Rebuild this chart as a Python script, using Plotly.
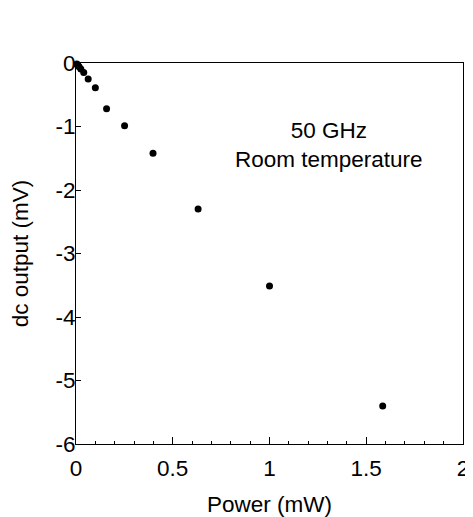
import plotly.graph_objects as go

power_mw = [0.004, 0.0063, 0.01, 0.016, 0.025, 0.04, 0.063, 0.1, 0.158, 0.251, 0.398, 0.631, 1.0, 1.585]
dc_output_mv = [-0.016, -0.024, -0.038, -0.06, -0.095, -0.15, -0.25, -0.39, -0.72, -0.99, -1.42, -2.30, -3.51, -5.40]

x_ticks = [0, 0.5, 1, 1.5, 2]
x_tick_labels = ["0", "0.5", "1", "1.5", "2"]
y_ticks = [0, -1, -2, -3, -4, -5, -6]
y_tick_labels = ["0", "-1", "-2", "-3", "-4", "-5", "-6"]

font_family = "Liberation Sans, Arial, sans-serif"
fs = 22.5

fig = go.Figure()
fig.add_trace(go.Scatter(
    x=power_mw, y=dc_output_mv, mode="markers",
    marker=dict(color="black", size=7),
    cliponaxis=False, showlegend=False,
))

fig.add_annotation(
    x=1.307, y=-1.29, xref="x", yref="y",
    text="50 GHz<br>Room temperature", showarrow=False,
    align="center", font=dict(family=font_family, size=fs, color="black"),
)

fig.update_xaxes(
    range=[0, 2], tickvals=x_ticks, ticktext=x_tick_labels,
    ticks="inside", ticklen=7, tickwidth=1, tickcolor="black",
    minor=dict(dtick=0.1, ticks="inside", ticklen=3, tickcolor="black"),
    showline=True, linecolor="black", linewidth=1, mirror=True,
    showgrid=False, zeroline=False, ticklabelstandoff=4,
    ticklabeloverflow="allow",
    title=dict(text="Power (mW)", font=dict(family=font_family, size=fs, color="black"), standoff=21),
    tickfont=dict(family=font_family, size=fs, color="black"),
    automargin=False,
)
fig.update_yaxes(
    range=[-6, 0], tickvals=y_ticks, ticktext=y_tick_labels,
    ticks="inside", ticklen=5, tickwidth=1, tickcolor="black",
    showline=True, linecolor="black", linewidth=1, mirror=True,
    showgrid=False, zeroline=False, ticklabelstandoff=-5,
    ticklabeloverflow="allow",
    title=dict(text="dc output (mV)", font=dict(family=font_family, size=fs, color="black"), standoff=25),
    tickfont=dict(family=font_family, size=fs, color="black"),
    automargin=False,
)

fig.update_layout(
    width=465, height=509,
    margin=dict(l=68, r=10, t=55, b=73),
    plot_bgcolor="white", paper_bgcolor="white",
)

fig.write_html("out.html")
